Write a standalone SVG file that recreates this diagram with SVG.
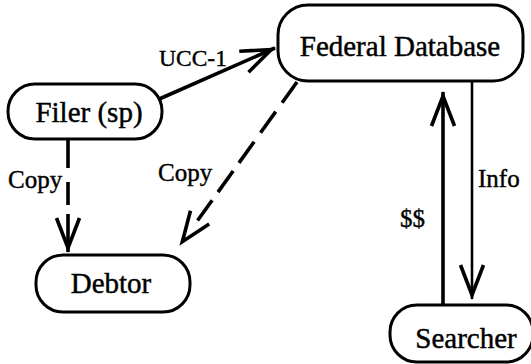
<svg xmlns="http://www.w3.org/2000/svg" xmlns:xlink="http://www.w3.org/1999/xlink" width="531" height="364" viewBox="0 0 531 364">
  <style>
    .box { fill: #fff; stroke: #000; stroke-width: 3; }
    .name { font-family: "Liberation Serif", "Times New Roman", serif; font-size: 29px; text-anchor: middle; fill: #000; stroke: #000; stroke-width: 0.45; }
    .lbl { font-family: "Liberation Serif", "Times New Roman", serif; font-size: 25px; fill: #000; stroke: #000; stroke-width: 0.4; }
    .edge { fill: none; stroke: #000; stroke-width: 3.6; }
    .thin { stroke-width: 2.6; }
  </style>
  <defs>
    <!-- open V arrowhead, tip at the line end -->
    <marker id="head" markerUnits="userSpaceOnUse" orient="auto" overflow="visible" markerWidth="40" markerHeight="30" refX="0" refY="0">
      <path d="M-34,-11.5 L-4,0 L-34,11.5" fill="none" stroke="#000" stroke-width="3.6" stroke-linejoin="miter" stroke-dasharray="none"/>
    </marker>
  </defs>

  <g id="edges">
    <!-- Filer -> Federal Database -->
    <line class="edge" x1="157" y1="100" x2="275" y2="48" marker-end="url(#head)"/>
    <!-- Filer -> Debtor (dashed copy) -->
    <line class="edge" x1="68" y1="140" x2="68" y2="252" stroke-dasharray="28 14 23 9 200" marker-end="url(#head)"/>
    <!-- Federal Database -> Debtor (dashed copy) -->
    <line class="edge" x1="297" y1="82" x2="180" y2="245" stroke-dasharray="25.5 11 26 11 26 10 26 10 25 40" marker-end="url(#head)"/>
    <!-- Federal Database -> Searcher (info) -->
    <line class="edge thin" x1="472" y1="81" x2="472" y2="299" marker-end="url(#head)"/>
    <!-- Searcher -> Federal Database (payment) -->
    <line class="edge" x1="443" y1="305" x2="443" y2="92" marker-end="url(#head)"/>

    <text class="lbl" x="159" y="66" style="font-size:23.5px">UCC-1</text>
    <text class="lbl" x="8" y="188">Copy</text>
    <text class="lbl" x="158" y="181">Copy</text>
    <text class="lbl" x="478" y="187">Info</text>
    <text class="lbl" x="400" y="227">$$</text>
  </g>

  <g id="federal">
    <rect class="box" x="278" y="5" width="245" height="76" rx="30"/>
    <text class="name" x="400" y="56">Federal Database</text>
  </g>

  <g id="filer">
    <rect class="box" x="8" y="84" width="154" height="55" rx="27"/>
    <text class="name" x="89" y="122">Filer (sp)</text>
  </g>

  <g id="debtor">
    <rect class="box" x="36" y="255" width="154" height="57" rx="27"/>
    <text class="name" x="111" y="293">Debtor</text>
  </g>

  <g id="searcher">
    <rect class="box" x="390" y="305" width="143" height="57" rx="27"/>
    <text class="name" x="466" y="348">Searcher</text>
  </g>
</svg>
